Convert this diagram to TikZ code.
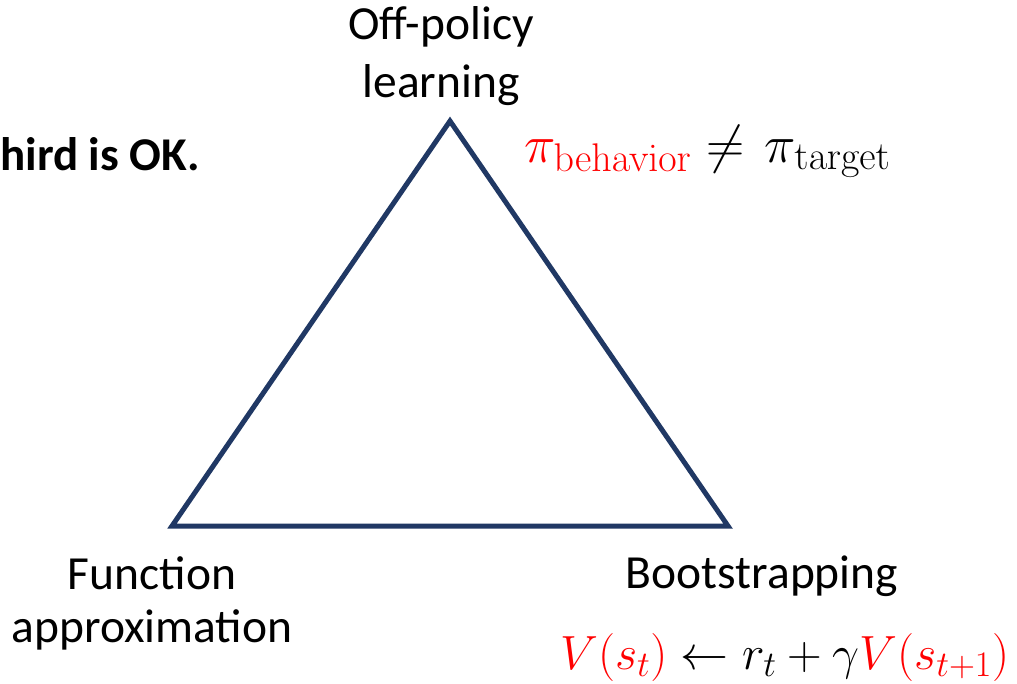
\RequirePackage{fix-cm}
\documentclass[tikz,border=0pt]{standalone}
\usepackage[no-math]{fontspec}
\setmainfont{Carlito}
\usepackage{amsmath}
\DeclareMathSizes{48}{48}{36}{28}
\DeclareMathSizes{53}{53}{40}{30}
\definecolor{triblue}{HTML}{203864}
\definecolor{eqred}{HTML}{FF0000}
\begin{document}
\begin{tikzpicture}[x=1pt,y=-1pt,
  lbl/.style={align=center, inner sep=0pt, anchor=base},
  eqn/.style={font=\fontsize{48}{56}\selectfont, inner sep=0pt, anchor=base west}]
  \useasboundingbox (0,0) rectangle (1017,683);
  % the triangle
  \coordinate (top) at (450,121);
  \coordinate (bl) at (172,526);
  \coordinate (br) at (728,526);
  \draw[triblue, line width=5pt, line join=miter] (top) -- (br) -- (bl) -- cycle;
  % corner labels (anchor base = baseline of the last line)
  \node[lbl, font=\fontsize{47.5}{58}\selectfont] (offp) at (441,97) {Off-policy\\learning};
  \node[lbl, font=\fontsize{47.5}{53}\selectfont] (func) at (152,642) {Function\\approximation};
  \node[lbl, font=\fontsize{47.5}{55}\selectfont] (boot) at (762,588) {Bootstrapping};
  \node[lbl, anchor=base west, font=\fontsize{47}{55}\selectfont\bfseries] (note) at (0,170) {hird is OK.};
  % formulas
  \node[eqn, font=\fontsize{53}{60}\selectfont] (pieq) at (524,162)
    {$\textcolor{eqred}{\pi_{\mathrm{behavior}}} \neq \mkern2mu \pi_{\mathrm{target}}$};
  \node[eqn] (veq) at (560,669) {$\textcolor{eqred}{V(s_t)} \leftarrow r_t + \gamma \textcolor{eqred}{V(s_{t+1})}$};
\end{tikzpicture}
\end{document}
